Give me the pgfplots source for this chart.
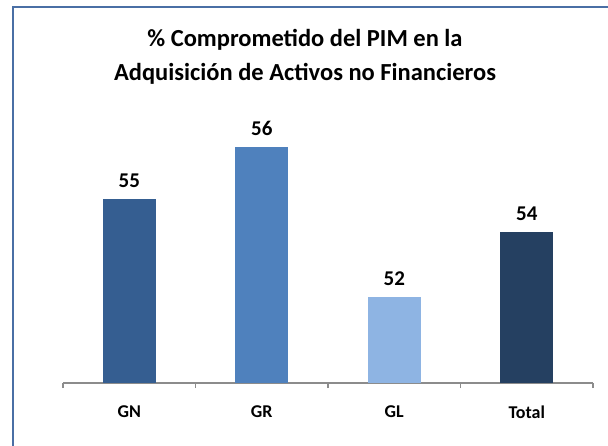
\documentclass[border=0pt]{standalone}
\usepackage{pgfplots}
\pgfplotsset{compat=1.18}
\usepackage{fontspec}
\setmainfont{Carlito}
\definecolor{cGN}{HTML}{355E91}
\definecolor{cGR}{HTML}{4F81BD}
\definecolor{cGL}{HTML}{8EB4E3}
\definecolor{cTot}{HTML}{254061}
\definecolor{frame}{HTML}{4A6FA5}
\definecolor{axisgray}{HTML}{8C8C8C}
\begin{document}
\begin{tikzpicture}[x=1pt,y=1pt]
\draw[frame, line width=2pt] (13,-5) -- (13,438) -- (615,438);
\node[align=center, font=\fontsize{24.5}{34}\selectfont\bfseries] at (305,388)
  {\% Comprometido del PIM en la\\Adquisición de Activos no Financieros};
\begin{axis}[
  at={(63pt,62pt)}, anchor=south west,
  scale only axis, width=530pt, height=260pt,
  xmin=-0.5, xmax=3.5, ymin=49.35, ymax=57.35,
  axis x line*=bottom, axis y line=none,
  axis line style={axisgray, line width=1.2pt},
  xtick={0,1,2,3}, xticklabels={GN,GR,GL,Total},
  major tick length=0pt,
  minor xtick={-0.5,0.5,1.5,2.5,3.5},
  minor tick length=5pt,
  tick align=outside,
  minor tick style={axisgray, line width=1.2pt},
  xticklabel style={font=\fontsize{18}{20}\selectfont\bfseries, yshift=-19pt},
  ybar, bar width=53pt, bar shift=0pt,
  point meta=explicit symbolic,
  nodes near coords,
  every node near coord/.append style={font=\fontsize{21}{23}\selectfont\bfseries, black, yshift=8pt},
]
\addplot[fill=cGN, draw=none] coordinates {(0,55.0) [55]};
\addplot[fill=cGR, draw=none] coordinates {(1,56.6) [56]};
\addplot[fill=cGL, draw=none] coordinates {(2,52.0) [52]};
\addplot[fill=cTot, draw=none] coordinates {(3,54.0) [54]};
\end{axis}
\pgfresetboundingbox
\path[use as bounding box] (0,0) rectangle (608,445);
\end{tikzpicture}
\end{document}
